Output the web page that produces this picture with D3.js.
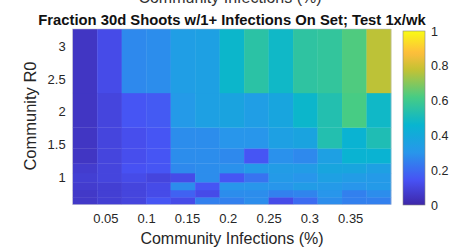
<!DOCTYPE html>
<html><head><meta charset="utf-8">
<script src="https://cdn.jsdelivr.net/npm/d3@7"></script>
<style>body{margin:0;background:#fff}svg{display:block}text{font-family:"Liberation Sans",Arial,Helvetica,sans-serif;fill:#262626}</style>
</head><body><svg id="c" width="456" height="247"></svg>
<script>
// Data
const xEdges = [0.01,0.04,0.07,0.10,0.13,0.16,0.19,0.22,0.25,0.28,0.31,0.34,0.37,0.40];
const yEdges = [0.58,0.69,0.80,0.92,1.06,1.21,1.44,1.76,2.29,3.27];
// rows from bottom (R0 low) to top; 13 columns each
const values = [
  [0.06,0.08,0.10,0.15,0.12,0.25,0.25,0.28,0.12,0.20,0.28,0.25,0.25],
  [0.06,0.08,0.10,0.12,0.18,0.12,0.28,0.28,0.25,0.26,0.30,0.25,0.28],
  [0.07,0.08,0.10,0.12,0.28,0.15,0.30,0.30,0.30,0.33,0.32,0.30,0.32],
  [0.08,0.10,0.12,0.10,0.12,0.28,0.15,0.22,0.32,0.30,0.35,0.33,0.32],
  [0.07,0.10,0.14,0.15,0.27,0.28,0.29,0.32,0.33,0.33,0.38,0.38,0.35],
  [0.05,0.10,0.13,0.15,0.28,0.28,0.27,0.15,0.29,0.27,0.35,0.45,0.45],
  [0.05,0.10,0.13,0.15,0.28,0.28,0.30,0.30,0.35,0.37,0.53,0.45,0.52],
  [0.05,0.10,0.15,0.16,0.32,0.35,0.37,0.34,0.38,0.47,0.53,0.62,0.48],
  [0.05,0.12,0.27,0.28,0.34,0.35,0.47,0.55,0.48,0.56,0.57,0.63,0.77]
];
const xTicks = [0.05,0.1,0.15,0.2,0.25,0.3,0.35];
const yTicks = [1,1.5,2,2.5,3];
const cTicks = [0,0.2,0.4,0.6,0.8,1];
const titleText = "Fraction 30d Shoots w/1+ Infections On Set; Test 1x/wk";
const xLabel = "Community Infections (%)";
const yLabel = "Community R0";

// parula approximation
const parulaStops = [
  [0.2422,0.1504,0.6603],[0.2810,0.3228,0.9579],[0.1540,0.5902,0.9218],
  [0.0297,0.7082,0.8163],[0.2771,0.8003,0.5203],[0.7674,0.7607,0.2012],
  [0.9940,0.7406,0.2365],[0.9769,0.9839,0.0805]
];
const parulaPos = [0,0.143,0.302,0.46,0.619,0.778,0.873,1];
const pc = parulaStops.map(c=>d3.rgb(c[0]*255,c[1]*255,c[2]*255));
const color = d3.scaleLinear().domain(parulaPos).range(pc).interpolate(d3.interpolateRgb).clamp(true);

const svg = d3.select("#c");
const x = d3.scaleLinear().domain([0.01,0.40]).range([72.7,391]);
const y = d3.scaleLinear().domain([0.58,3.27]).range([204.3,29]);

const cells = [];
values.forEach((row,r)=>row.forEach((v,c)=>cells.push({r,c,v})));
svg.append("g").selectAll("rect").data(cells).join("rect")
  .attr("x",d=>x(xEdges[d.c]))
  .attr("width",d=>x(xEdges[d.c+1])-x(xEdges[d.c])+0.3)
  .attr("y",d=>y(yEdges[d.r+1]))
  .attr("height",d=>y(yEdges[d.r])-y(yEdges[d.r+1])+0.3)
  .attr("fill",d=>color(d.v));

svg.append("rect").attr("x",72.7).attr("y",29).attr("width",391-72.7).attr("height",204.3-29)
  .attr("fill","none").attr("stroke","#b8b8c8").attr("stroke-width",0.5);

// axes
const xa = svg.append("g").attr("transform","translate(0,204.3)")
  .call(d3.axisBottom(x).tickValues(xTicks).tickSize(0).tickPadding(9).tickFormat(d3.format("")));
xa.select(".domain").remove();
xa.selectAll("text").attr("font-size",13).style("fill","#262626");
const ya = svg.append("g").attr("transform","translate(72.7,0)")
  .call(d3.axisLeft(y).tickValues(yTicks).tickSize(0).tickPadding(7).tickFormat(d3.format("")));
ya.select(".domain").remove();
ya.selectAll("text").attr("font-size",13).style("fill","#262626");

// labels
svg.append("text").attr("x",230).attr("y",3).attr("text-anchor","middle").attr("font-size",16).style("fill","#333").text(xLabel);
svg.append("text").attr("x",232).attr("y",25).attr("text-anchor","middle").attr("font-size",14.8).attr("font-weight","bold").style("fill","#111").text(titleText);
svg.append("text").attr("x",232).attr("y",244).attr("text-anchor","middle").attr("font-size",16).text(xLabel);
svg.append("text").attr("transform","translate(36,116) rotate(-90)").attr("text-anchor","middle").attr("font-size",16.5).text(yLabel);

// colorbar
const cy = d3.scaleLinear().domain([0,1]).range([205,31]);
const defs = svg.append("defs");
const grad = defs.append("linearGradient").attr("id","pg").attr("x1",0).attr("y1",1).attr("x2",0).attr("y2",0);
d3.range(0,1.0001,0.02).forEach(t=>grad.append("stop").attr("offset",t).attr("stop-color",color(t)));
svg.append("rect").attr("x",403).attr("y",cy(1)).attr("width",22).attr("height",cy(0)-cy(1))
  .attr("fill","url(#pg)").attr("stroke","#888").attr("stroke-width",0.6);
const ca = svg.append("g").attr("transform","translate(425,0)")
  .call(d3.axisRight(cy).tickValues(cTicks).tickSize(0).tickPadding(6).tickFormat(d3.format("")));
ca.select(".domain").remove();
ca.selectAll("text").attr("font-size",12.5).style("fill","#262626");
</script></body></html>
